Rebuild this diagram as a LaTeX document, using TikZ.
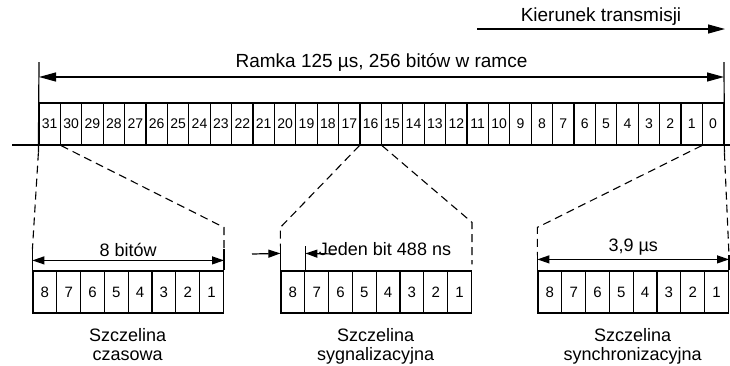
\documentclass[tikz,border=0pt]{standalone}
\usepackage{fontspec}
\setmainfont{Liberation Sans}
\usetikzlibrary{positioning, arrows.meta}

\begin{document}
\begin{tikzpicture}[x=1pt, y=-1pt, on grid, node distance=21.4pt, line width=1.2pt,
        bit/.style={draw, minimum width=21.4pt, minimum height=42pt, inner sep=0pt, font=\fontsize{14}{14}\selectfont},
        slotbit/.style={draw, minimum width=23.8pt, minimum height=42pt, inner sep=0pt, font=\fontsize{15}{15}\selectfont},
        txt/.style={font=\fontsize{18}{19}\selectfont, inner sep=1pt},
        bigtxt/.style={font=\fontsize{19}{21}\selectfont, inner sep=1pt},
        proj/.style={dash pattern=on 8pt off 5pt, line width=1.1pt},
        bigarrow/.style={-{Triangle[length=17pt,width=9pt]}},
        bigdim/.style={{Triangle[length=17pt,width=9pt]}-{Triangle[length=17pt,width=9pt]}},
        dimtip/.style={-{Triangle[length=12pt,width=8pt]}},
        dimarrow/.style={{Triangle[length=12pt,width=8pt]}-{Triangle[length=12pt,width=8pt]}}]
        \useasboundingbox (0,0) rectangle (730,365);

        % ramka: 32 szczeliny
        \node[bit] (c31) at (49.7,124) {31};
        \foreach \n in {30,...,0}{
            \pgfmathtruncatemacro\p{\n+1}
            \node[bit] (c\n) [right=of c\p] {\n};
        }

        % trzy szczeliny po 8 bitow
        \foreach \s/\x in {a/44.9, b/292.9, s/549.9}{
            \node[slotbit] (\s8) at (\x,292) {8};
            \foreach \n in {7,...,1}{
                \pgfmathtruncatemacro\p{\n+1}
                \node[slotbit] (\s\n) [right=23.8pt of \s\p] {\n};
            }
        }

        \coordinate (lineL) at (12,145);
        \coordinate (lineR) at (730,145);
        \coordinate (fl) at (39,62);
        \coordinate (fr) at (724,62);
        \coordinate (kl) at (477,29);
        \coordinate (kr) at (725,29);
        \coordinate (jl) at (252,254);
        \coordinate (jr) at (335,254);

        \draw (lineL) -- (lineR);
        \draw (fl) -- ([yshift=-7pt]c31.south west);
        \draw (fr) -- ([yshift=-7pt]c0.south east);
        \draw[bigdim] ([yshift=-15pt]fl) -- node[bigtxt, above=4pt] {Ramka 125 µs, 256 bitów w ramce} ([yshift=-15pt]fr);
        \draw[bigarrow] (kl) -- node[bigtxt, above=2pt] {Kierunek transmisji} (kr);

        % szczelina czasowa
        \draw[proj] ([yshift=-7pt]c31.south west) -- ([yshift=21pt]a8.north west);
        \draw[proj] (c31.south east) -- ([yshift=43pt]a1.north east) -- ([yshift=21pt]a1.north east);
        \draw ([yshift=21pt]a8.north west) -- (a8.north west);
        \draw ([yshift=21pt]a1.north east) -- (a1.north east);
        \draw[dimarrow] ([yshift=10pt]a8.north west) -- node[txt, above=2pt] {8 bitów} ([yshift=10pt]a1.north east);

        % szczelina sygnalizacyjna
        \draw[proj] (c16.south west) -- ([yshift=43pt]b8.north west) -- ([yshift=24pt]b8.north west);
        \draw[proj] (c16.south east) -- ([yshift=48pt]b1.north east) -- ([yshift=6pt]b1.north east);
        \draw ([yshift=24pt]b8.north west) -- (b8.north west);
        \draw ([yshift=24pt]b8.north east) -- (b8.north east);
        \draw[dimtip] (jl) -- ([yshift=17pt]b8.north west);
        \draw[dimtip] (jr) -- ([yshift=17pt]b8.north east);
        \node[txt, anchor=base] (jeden) at (385,255) {Jeden bit 488 ns};

        % szczelina synchronizacyjna
        \draw[proj] (c0.south west) -- ([yshift=43pt]s8.north west) -- ([yshift=15pt]s8.north west);
        \draw[proj] ([yshift=-7pt]c0.south east) -- ([yshift=15pt]s1.north east);
        \draw ([yshift=15pt]s8.north west) -- (s8.north west);
        \draw ([yshift=15pt]s1.north east) -- (s1.north east);
        \draw[dimarrow] ([yshift=11pt]s8.north west) -- node[txt, above=3pt] {3,9 µs} ([yshift=11pt]s1.north east);

        % podpisy
        \node[txt, align=center, anchor=north] (nA) at ([yshift=-13pt]a4.south west) {Szczelina\\czasowa};
        \node[txt, align=center, anchor=north] (nB) at ([yshift=-13pt]b4.south west) {Szczelina\\sygnalizacyjna};
        \node[txt, align=center, anchor=north] (nS) at ([yshift=-13pt]s4.south west) {Szczelina\\synchronizacyjna};
\end{tikzpicture}
\end{document}
